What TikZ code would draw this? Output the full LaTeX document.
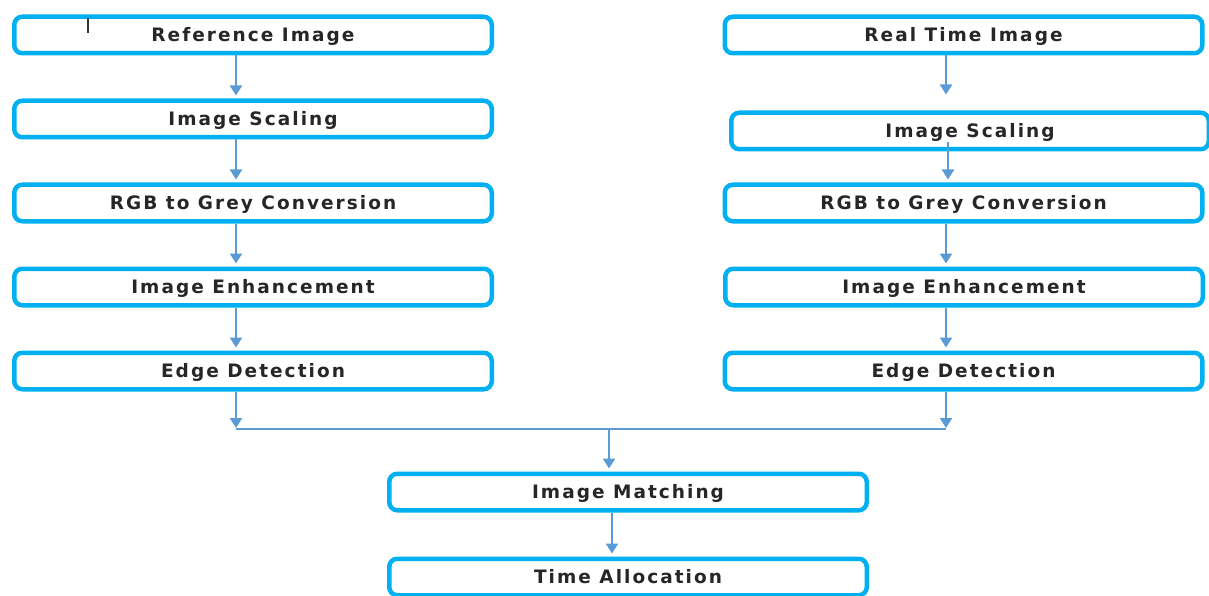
\documentclass[tikz,border=0pt]{standalone}
\usepackage{fontspec}
\setmainfont{DejaVu Sans}
\newfontfamily\boxfont{DejaVu Sans}[LetterSpace=11]
\usetikzlibrary{arrows.meta,calc}
\definecolor{boxline}{HTML}{00B0F0}
\definecolor{arrline}{HTML}{5B9BD5}
\definecolor{boxtext}{HTML}{262626}

\begin{document}
\begin{tikzpicture}[x=1pt,y=-1pt,
  stage/.style={draw=boxline, line width=4.5pt, rounded corners=8pt, fill=white,
    minimum width=477.5pt, minimum height=36.5pt, inner sep=0pt,
    text height=15pt, text depth=2pt,
    font=\boxfont\bfseries\fontsize{18.5}{21}\selectfont, text=boxtext},
  flow/.style={draw=arrline, line width=2.2pt,
    -{Triangle[width=12pt,length=10pt]}, shorten >=3pt},
  link/.style={draw=arrline, line width=2.2pt}]
\useasboundingbox (0,0) rectangle (1209,596);

% left pipeline
\node[stage] (l1) at (253,35)  {Reference Image};
\node[stage] (l2) at (253,119) {Image Scaling};
\node[stage] (l3) at (253,203) {RGB to Grey Conversion};
\node[stage] (l4) at (253,287) {Image Enhancement};
\node[stage] (l5) at (253,371) {Edge Detection};

% right pipeline
\node[stage] (r1) at (963.5,35)  {Real Time Image};
\node[stage] (r2) at (970,131)   {Image Scaling};
\node[stage] (r3) at (963.5,203) {RGB to Grey Conversion};
\node[stage] (r4) at (964,287)   {Image Enhancement};
\node[stage] (r5) at (963.5,371) {Edge Detection};

% joint stages
\node[stage] (m1) at (628,492) {Image Matching};
\node[stage] (m2) at (628,577) {Time Allocation};

% text cursor mark
\draw[line width=1.3pt, black!80] (88,18) -- (88,33);

% arrow columns and junction points
\coordinate (lx) at (236,0);
\coordinate (rx) at (946,0);
\coordinate (rx2) at (948,0);
\coordinate (lj) at (236,429);
\coordinate (rj) at (946,429);
\coordinate (cj) at (609,429);
\coordinate (cx2) at (612,0);
\coordinate (r2in) at ([yshift=9pt]r2.south);

% left arrows
\draw[flow] (l1.south -| lx) -- (l2.north -| lx);
\draw[flow] (l2.south -| lx) -- (l3.north -| lx);
\draw[flow] (l3.south -| lx) -- (l4.north -| lx);
\draw[flow] (l4.south -| lx) -- (l5.north -| lx);

% right arrows
\draw[flow, shorten >=16pt] (r1.south -| rx) -- (r2.north -| rx);
\draw[flow] (r2in -| rx2) -- (r3.north -| rx2);
\draw[flow] (r3.south -| rx) -- (r4.north -| rx);
\draw[flow] (r4.south -| rx) -- (r5.north -| rx);

% merge into matching
\draw[flow, shorten >=1pt] (l5.south -| lx) -- (lj);
\draw[flow, shorten >=1pt] (r5.south -| rx) -- (rj);
\draw[link] (lj) -- (rj);
\draw[flow] (cj) -- (m1.north -| cj);
\draw[flow] (m1.south -| cx2) -- (m2.north -| cx2);
\end{tikzpicture}
\end{document}
